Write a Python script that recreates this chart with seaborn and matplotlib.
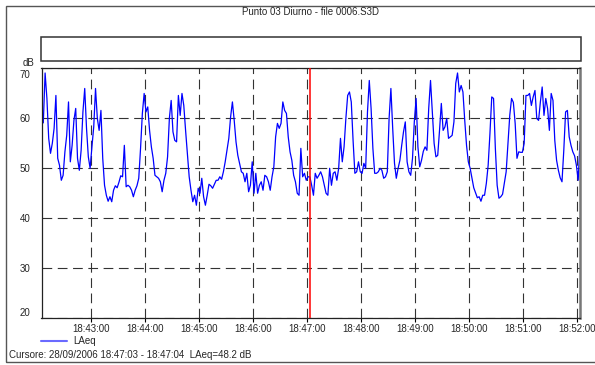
import numpy as np
import pandas as pd
import matplotlib
matplotlib.use("Agg")
import matplotlib.pyplot as plt
import matplotlib.dates as mdates
import matplotlib.transforms as mtransforms
from matplotlib.lines import Line2D
from matplotlib.patches import Rectangle
import seaborn as sns

# ---- data -------------------------------------------------------------
title = "Punto 03 Diurno - file 0006.S3D"
series_name = "LAeq"
unit = "dB"
session_date = "2006-09-28"
start_time = "18:42:07"          # first sample
step_seconds = 2                 # sample spacing
view_start = "18:42:05"
view_end = "18:52:03"
cursor_start = "18:47:03"
cursor_end = "18:47:04"
y_ticks = [20, 30, 40, 50, 60, 70]

laeq_db = [
    59.0, 69.0, 63.9, 55.9, 52.9, 54.9, 57.9, 64.5, 51.9, 50.5,
    47.5, 48.5, 53.2, 56.5, 63.2, 51.2, 54.5, 59.5, 61.9, 51.9,
    49.5, 53.5, 61.2, 65.9, 57.9, 52.2, 49.9, 54.2, 58.2, 65.9,
    59.9, 57.5, 61.5, 51.9, 46.5, 44.5, 43.3,
    44.2, 43.2, 45.5, 46.4, 46.0, 47.1, 48.4, 48.2, 54.5, 46.2,
    46.5, 46.2, 45.5, 44.2, 45.5, 46.4, 47.9, 53.9, 60.9, 64.9,
    61.2, 62.2, 57.5, 54.2, 51.9, 48.5, 48.2, 47.9, 47.2, 45.2,
    47.5, 48.9, 52.2, 59.9, 63.5, 57.2, 55.5,
    55.2, 64.5, 60.5, 64.9, 62.5, 57.5, 52.9, 48.2, 45.5, 43.2,
    44.5, 42.5, 45.9, 44.9, 47.9, 44.2, 42.5, 44.5, 46.7, 46.4,
    45.9, 46.7, 47.5, 47.5, 48.2, 47.7, 49.2, 51.2, 53.5, 55.9,
    60.2, 63.2, 59.5, 55.2, 52.5, 50.9, 49.2, 48.9,
    47.2, 48.9, 45.2, 46.5, 51.2, 44.9, 48.9, 44.9, 46.5, 47.2,
    45.5, 48.5, 48.2, 47.2, 45.5, 48.2, 50.2, 56.2, 58.9, 57.9,
    58.9, 63.2, 61.5, 60.9, 56.2, 53.2, 51.5, 48.5, 47.2, 44.9,
    44.5, 53.9, 48.2, 48.9, 47.5, 48.2, 48.2, 46.5,
    44.5, 48.9, 47.9, 48.5, 49.2, 48.2, 46.5, 44.9, 44.5, 49.9,
    46.5, 48.9, 49.2, 47.5, 49.9, 55.9, 51.2, 54.2, 59.9, 64.5,
    65.2, 63.2, 55.5, 48.9, 49.2, 51.2, 49.2, 48.9, 50.9, 49.9,
    61.2, 67.5, 61.9, 53.9, 48.9, 48.9, 49.2,
    49.9, 49.5, 47.9, 48.2, 49.2, 59.9, 65.9, 57.9, 50.9, 47.9,
    49.9, 51.5, 54.5, 57.2, 59.2, 51.2, 49.2, 48.5, 51.9, 59.2,
    63.9, 54.2, 50.2, 51.5, 53.3, 54.2, 53.5, 61.9, 67.5, 61.2,
    54.9, 52.2, 52.5, 57.5, 62.9, 57.5, 58.2, 59.9,
    55.9, 56.2, 56.5, 59.2, 66.9, 69.0, 65.2, 66.5, 65.2, 59.5,
    54.5, 51.2, 49.9, 47.9, 46.0, 45.0, 44.0, 44.2, 43.3, 44.5,
    44.5, 46.9, 50.5, 56.9, 64.2, 63.9, 53.9, 46.5, 43.9, 44.2,
    44.7, 46.9, 49.2, 54.9, 60.5, 63.9, 63.1, 58.9,
    51.9, 53.2, 53.1, 53.1, 54.9, 64.5, 64.5, 64.9, 62.5, 64.2,
    65.5, 59.9, 59.5, 63.2, 66.2, 60.5, 63.9, 61.9, 57.5, 64.9,
    63.5, 55.5, 51.5, 49.5, 48.0, 47.2, 53.5, 61.2, 61.5, 56.2,
    54.5, 53.2, 52.4, 50.5, 47.5, 55.2,
]

def stamp(hms):
    return pd.Timestamp(f"{session_date} {hms}")

times = pd.date_range(stamp(start_time), periods=len(laeq_db),
                      freq=f"{step_seconds}s")
df = pd.DataFrame({"time": times, series_name: laeq_db})
cursor_value = df.loc[df["time"] == stamp(cursor_start), series_name].iloc[0]

# ---- style ------------------------------------------------------------
sns.set_theme(style="white")
plt.rcParams["font.family"] = ["Liberation Sans", "DejaVu Sans"]
plt.rcParams["font.size"] = 7
plt.rcParams["lines.scale_dashes"] = False

W, H = 595, 365
fig = plt.figure(figsize=(W / 100, H / 100), dpi=100, facecolor="white")


def fx(px):
    return px / W


def fy(py):
    return 1 - py / H


ax = fig.add_axes([fx(41.5), fy(317.5), fx(580) - fx(41.5), fy(68) - fy(317.5)])
ax.set_facecolor("white")

# dashed grid
ax.grid(True, color="#333333", linestyle=(0, (7, 4)), linewidth=0.8)
ax.set_axisbelow(True)

sns.lineplot(data=df, x="time", y=series_name, ax=ax, color="#0000ff",
             linewidth=0.9, legend=False)

ax.axvline(stamp(cursor_start), color="#ff0000", linewidth=1.1, zorder=5)

ax.set_xlim(stamp(view_start), stamp(view_end))
ax.set_ylim(y_ticks[0], y_ticks[-1])
ax.set_yticks(y_ticks)
ax.xaxis.set_major_locator(mdates.MinuteLocator())
ax.xaxis.set_major_formatter(mdates.DateFormatter("%H:%M:%S"))
ax.set_xlabel("")
ax.set_ylabel("")
ax.tick_params(axis="x", direction="out", length=3, width=0.8,
               color="black", pad=2, labelsize=7, bottom=True)
ax.tick_params(axis="y", length=0, pad=8, labelsize=7, left=True)

# keep the end labels inside the plot height
shift_down = mtransforms.ScaledTranslation(0, -2 / 100, fig.dpi_scale_trans)
for lab, v in zip(ax.get_yticklabels(), y_ticks):
    if v == y_ticks[-1]:
        lab.set_va("top")
        lab.set_transform(lab.get_transform() + shift_down)
    elif v == y_ticks[0]:
        lab.set_va("bottom")

for side, sp in ax.spines.items():
    sp.set_visible(True)
    sp.set_color("#222222")
    sp.set_linewidth(0.9)
ax.spines["right"].set_color("#777777")
ax.spines["right"].set_linewidth(1.8)

# ---- surrounding decorations -------------------------------------------
fig.text(fx(310.7), fy(12), title, ha="center", va="center", fontsize=7)

fig.add_artist(Rectangle((fx(41), fy(60.5)), fx(581) - fx(41),
                         fy(37.5) - fy(60.5), transform=fig.transFigure,
                         fill=False, edgecolor="#333333", linewidth=1.1))

fig.add_artist(Rectangle((fx(5.5), fy(361.5)), fx(600) - fx(5.5),
                         fy(5.5) - fy(361.5), transform=fig.transFigure,
                         fill=False, edgecolor="#555555", linewidth=1.0))

fig.text(fx(34), fy(63), unit, ha="right", va="center", fontsize=7)

fig.legend(handles=[Line2D([], [], color="#6a6aff", linewidth=1.5)],
           labels=[series_name], loc="center left",
           bbox_to_anchor=(fx(41), fy(341)), frameon=False,
           handlelength=2.7, handletextpad=0.6, borderpad=0,
           borderaxespad=0, fontsize=7)

d = pd.Timestamp(session_date)
fig.text(fx(9), fy(355.5),
         f"Cursore: {d:%d/%m/%Y} {cursor_start} - {cursor_end}  "
         f"{series_name}={cursor_value:.1f} {unit}",
         ha="left", va="center", fontsize=7)

fig.savefig("out.png", dpi=100, facecolor="white")
